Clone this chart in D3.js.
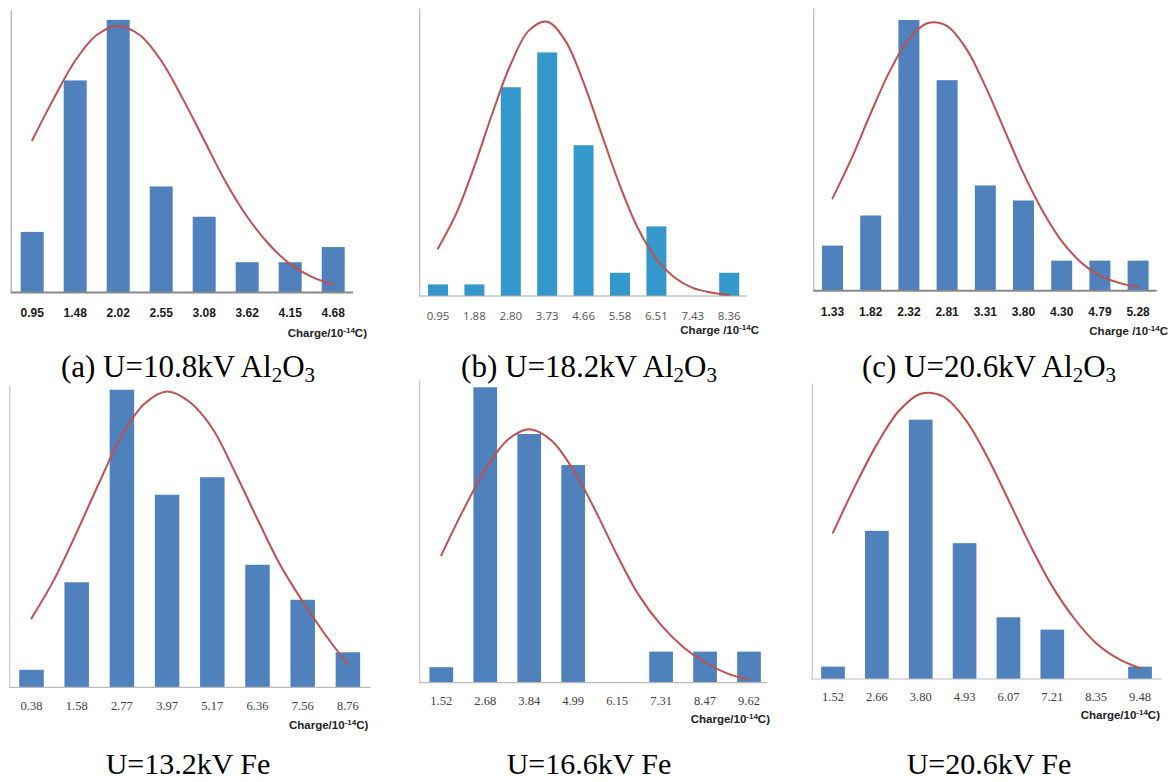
<!DOCTYPE html>
<html>
<head>
<meta charset="utf-8">
<script src="https://cdn.jsdelivr.net/npm/d3@7"></script>
<style>
  html, body { margin: 0; padding: 0; background: #fff; }
  svg { display: block; }
</style>
</head>
<body>
<svg id="chart" width="1174" height="782"></svg>
<script>
// bin labels (charge, 10^-14 C) and counts per panel
const labelsA = ['0.95', '1.48', '2.02', '2.55', '3.08', '3.62', '4.15', '4.68'];
const countsA = [4, 14, 18, 7, 5, 2, 2, 3];
const labelsB = ['0.95', '1.88', '2.80', '3.73', '4.66', '5.58', '6.51', '7.43', '8.36'];
const countsB = [1, 1, 18, 21, 13, 2, 6, 0, 2];
const labelsC = ['1.33', '1.82', '2.32', '2.81', '3.31', '3.80', '4.30', '4.79', '5.28'];
const countsC = [3, 5, 18, 14, 7, 6, 2, 2, 2];
const labelsD = ['0.38', '1.58', '2.77', '3.97', '5.17', '6.36', '7.56', '8.76'];
const countsD = [1, 6, 17, 11, 12, 7, 5, 2];
const labelsE = ['1.52', '2.68', '3.84', '4.99', '6.15', '7.31', '8.47', '9.62'];
const countsE = [1, 19, 16, 14, 0, 2, 2, 2];
const labelsF = ['1.52', '2.66', '3.80', '4.93', '6.07', '7.21', '8.35', '9.48'];
const countsF = [1, 12, 21, 11, 5, 4, 0, 1];

// fitted curves, every half bin (first bin -> last bin)
const fitA = [10.05, 12.8, 15.3, 17.0, 17.6, 17.0, 15.3, 12.8, 10.05, 7.3, 5.0, 3.2, 1.87, 1.03, 0.53];
const fitB = [4.1, 7.1, 11.2, 15.8, 20.0, 22.9, 23.65, 22.0, 18.4, 13.9, 9.5, 5.8, 3.2, 1.6, 0.7, 0.3, 0.1];
const fitC = [6.14, 8.8, 11.8, 14.6, 16.75, 17.8, 17.6, 16.1, 13.6, 10.7, 7.8, 5.3, 3.3, 1.9, 1.0, 0.52, 0.24];
const fitD = [3.94, 6.15, 8.85, 11.7, 14.4, 16.2, 16.9, 16.3, 14.8, 12.3, 9.6, 7.0, 4.9, 3.0, 1.3];
const fitE = [8.2, 11.1, 13.7, 15.6, 16.3, 15.6, 13.7, 11.1, 8.2, 5.6, 3.7, 2.3, 1.3, 0.6, 0.2];
const fitF = [11.85, 15.6, 19.0, 21.7, 23.1, 22.9, 21.1, 18.1, 14.5, 10.8, 7.5, 4.9, 2.9, 1.65, 0.87];

const captionsTop = [
    ['(a) U=10.8kV Al', '2', 'O', '3'],
    ['(b) U=18.2kV Al', '2', 'O', '3'],
    ['(c) U=20.6kV Al', '2', 'O', '3']
];
const captionsBottom = ['U=13.2kV Fe', 'U=16.6kV Fe', 'U=20.6kV Fe'];

const svg = d3.select('#chart');
svg.append('rect').attr('width', 1174).attr('height', 782).attr('fill', '#fff');

const tickStyles = {
    bold:  { family: '"Liberation Sans", Arial, sans-serif', weight: 'bold', size: 12, fill: '#1a1a1a' },
    light: { family: '"Open Sans", "Liberation Sans", sans-serif', weight: 'normal', size: 11.5, fill: '#555' },
    serif: { family: '"Liberation Serif", "Times New Roman", serif', weight: 'normal', size: 12.5, fill: '#404040' }
};

function drawPanel(p) {
    let n = p.labels.length;
    let pad = 1 - p.bw / p.step;
    let x = d3.scaleBand()
        .domain(p.labels)
        .range([p.c0 - p.step / 2, p.c0 + (n - 0.5) * p.step])
        .paddingInner(pad)
        .paddingOuter(pad / 2);
    let y = d3.scaleLinear().domain([0, p.yMax]).range([p.base, p.top]);
    let g = svg.append('g').attr('class', 'panel');

    // y axis: only the line
    g.append('g')
        .attr('transform', 'translate(' + p.axisX + ',0)')
        .call(d3.axisLeft(y).tickValues([]).tickSizeOuter(0))
        .select('.domain')
        .attr('stroke', p.yAxisColor)
        .attr('stroke-width', 1);

    g.selectAll('rect.bar')
        .data(p.counts)
        .enter()
        .append('rect')
        .attr('class', 'bar')
        .attr('x', (d, i) => x(p.labels[i]))
        .attr('y', d => y(d))
        .attr('width', x.bandwidth())
        .attr('height', d => p.base - y(d))
        .attr('fill', p.barColor);

    // x axis line
    g.append('line')
        .attr('x1', p.axisX).attr('x2', p.xEnd)
        .attr('y1', p.base).attr('y2', p.base)
        .attr('stroke', p.xAxisColor)
        .attr('stroke-width', p.xAxisWidth);

    let st = tickStyles[p.tickStyle];
    let xAxis = g.append('g')
        .attr('transform', 'translate(0,' + p.base + ')')
        .call(d3.axisBottom(x).tickSize(0).tickPadding(p.labelY - p.base - 0.35 * st.size));
    xAxis.select('.domain').remove();
    xAxis.selectAll('text')
        .attr('font-family', st.family)
        .attr('font-weight', st.weight)
        .attr('font-size', st.size)
        .attr('fill', st.fill);

    // fitted curve
    let xi = d3.scaleLinear()
        .domain([0, n - 1])
        .range([x(p.labels[0]) + x.bandwidth() / 2, x(p.labels[n - 1]) + x.bandwidth() / 2]);
    let line = d3.line()
        .x((d, k) => xi(k / 2))
        .y(d => y(d))
        .curve(d3.curveCatmullRom);
    g.append('path')
        .attr('d', line(p.fit))
        .attr('fill', 'none')
        .attr('stroke', '#c0504d')
        .attr('stroke-width', 2)
        .attr('stroke-linecap', 'round');

    // axis title
    let t = g.append('text')
        .attr('x', p.titleX).attr('y', p.titleY)
        .attr('text-anchor', 'end')
        .attr('font-family', '"Liberation Sans", Arial, sans-serif')
        .attr('font-weight', 'bold')
        .attr('font-size', 11.5)
        .attr('fill', '#222');
    t.append('tspan').text(p.titleText[0]);
    t.append('tspan').attr('font-size', 8).attr('dy', -4).text('-14');
    t.append('tspan').attr('dy', 4).text(p.titleText[1]);
}

let panels = [
    { labels: labelsA, counts: countsA, fit: fitA, axisX: 10.7, xEnd: 353, base: 292.5, top: 10, yMax: 18.65,
      c0: 32.2, step: 43.0, bw: 23, barColor: '#4f81bd', yAxisColor: '#999', xAxisColor: '#888', xAxisWidth: 2,
      tickStyle: 'bold', labelY: 313, titleX: 367, titleY: 337, titleText: ['Charge/10', 'C)'] },
    { labels: labelsB, counts: countsB, fit: fitB, axisX: 419.3, xEnd: 746.7, base: 296, top: 8, yMax: 24.83,
      c0: 438, step: 36.4, bw: 20, barColor: '#3598cc', yAxisColor: '#aaa', xAxisColor: '#aaa', xAxisWidth: 1.2,
      tickStyle: 'light', labelY: 316, titleX: 759, titleY: 334, titleText: ['Charge /10', 'C'] },
    { labels: labelsC, counts: countsC, fit: fitC, axisX: 813.3, xEnd: 1156.7, base: 290.7, top: 8, yMax: 18.8,
      c0: 832.5, step: 38.2, bw: 21, barColor: '#4f81bd', yAxisColor: '#aaa', xAxisColor: '#888', xAxisWidth: 2,
      tickStyle: 'bold', labelY: 311.7, titleX: 1168, titleY: 335, titleText: ['Charge /10', 'C'] },
    { labels: labelsD, counts: countsD, fit: fitD, axisX: 9.3, xEnd: 370.7, base: 687.3, top: 385, yMax: 17.27,
      c0: 31.5, step: 45.2, bw: 24.5, barColor: '#4f81bd', yAxisColor: '#bbb', xAxisColor: '#bbb', xAxisWidth: 1.2,
      tickStyle: 'serif', labelY: 706, titleX: 368.3, titleY: 729, titleText: ['Charge/10', 'C)'] },
    { labels: labelsE, counts: countsE, fit: fitE, axisX: 419.3, xEnd: 767.3, base: 682.7, top: 380, yMax: 19.47,
      c0: 441.3, step: 43.96, bw: 23.7, barColor: '#4f81bd', yAxisColor: '#bbb', xAxisColor: '#bbb', xAxisWidth: 1.2,
      tickStyle: 'serif', labelY: 701, titleX: 770, titleY: 723, titleText: ['Charge/10', 'C)'] },
    { labels: labelsF, counts: countsF, fit: fitF, axisX: 811.7, xEnd: 1161.7, base: 679, top: 383, yMax: 23.97,
      c0: 833, step: 43.86, bw: 23.7, barColor: '#4f81bd', yAxisColor: '#bbb', xAxisColor: '#bbb', xAxisWidth: 1.2,
      tickStyle: 'serif', labelY: 696.7, titleX: 1160, titleY: 719, titleText: ['Charge/10', 'C)'] }
];
panels.forEach(drawPanel);

// captions
let capX = [188, 589, 989];
captionsTop.forEach((c, i) => {
    let t = svg.append('text')
        .attr('x', capX[i]).attr('y', 377)
        .attr('text-anchor', 'middle')
        .attr('font-family', '"Liberation Serif", "Times New Roman", serif')
        .attr('font-size', 31)
        .attr('fill', '#000');
    t.append('tspan').text(c[0]);
    t.append('tspan').attr('font-size', 21).attr('dy', 5).text(c[1]);
    t.append('tspan').attr('dy', -5).text(c[2]);
    t.append('tspan').attr('font-size', 21).attr('dy', 5).text(c[3]);
});
captionsBottom.forEach((c, i) => {
    svg.append('text')
        .attr('x', capX[i]).attr('y', 774)
        .attr('text-anchor', 'middle')
        .attr('font-family', '"Liberation Serif", "Times New Roman", serif')
        .attr('font-size', 30)
        .attr('fill', '#000')
        .text(c);
});
</script>
</body>
</html>
